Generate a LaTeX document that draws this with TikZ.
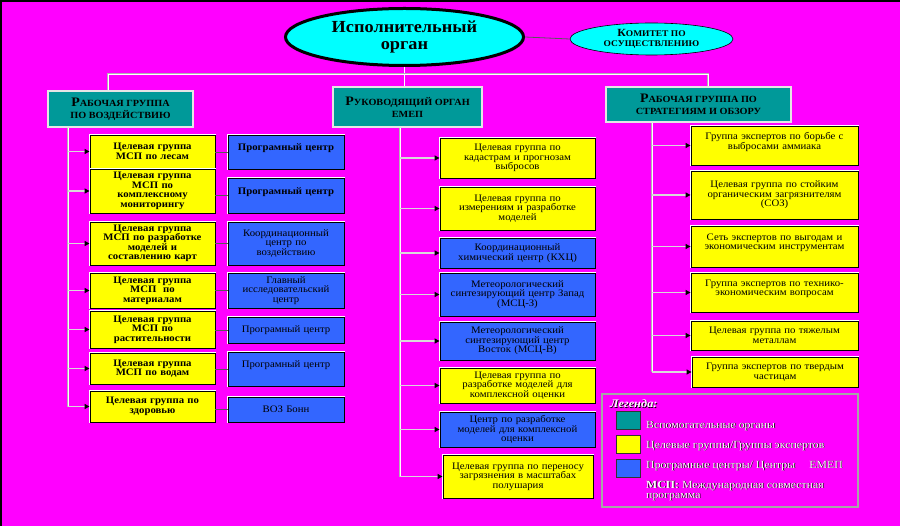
\documentclass[tikz,border=0pt]{standalone}
\usepackage{fontspec}
\setmainfont{Liberation Serif}[FakeStretch=1.08]
\usepackage{tikz}
\usetikzlibrary{shapes,arrows.meta}
\definecolor{bgmag}{RGB}{255,0,255}
\definecolor{tealc}{RGB}{0,153,153}
\definecolor{yelc}{RGB}{255,255,0}
\definecolor{bluec}{RGB}{51,102,255}
\definecolor{cyanc}{RGB}{0,255,255}
\newcommand{\hbig}[1]{{\fontsize{13}{13}\selectfont #1}}
\newcommand{\shtext}[1]{\leavevmode\rlap{\hspace{0.7bp}\raisebox{-0.7bp}{\color{black}#1}}{\color{white}#1}}
\tikzstyle{exec} = [ellipse, draw=black, line width=3bp, fill=cyanc, minimum width=238bp,
    minimum height=57bp, inner sep=0bp, align=center, font=\fontsize{17}{17.5}\selectfont\bfseries]
\tikzstyle{comm} = [ellipse, draw=black, line width=0.6bp, fill=cyanc, minimum width=163bp,
    minimum height=32bp, inner sep=0bp, align=center, font=\fontsize{8.8}{10}\selectfont\bfseries]
\tikzstyle{head} = [rectangle, draw=gray!20, line width=1.2bp, fill=tealc, align=center,
    inner sep=1bp, font=\fontsize{9.5}{12}\selectfont\bfseries]
\tikzstyle{box} = [rectangle, draw=black, line width=0.9bp, preaction={draw=white, line width=2.6bp},
    align=center, inner xsep=2bp, inner ysep=1bp, font=\fontsize{10}{9.5}\selectfont]
\tikzstyle{boldtxt} = [font=\fontsize{10}{9.5}\selectfont\bfseries]
\tikzstyle{tgl} = [box, boldtxt, fill=yelc, minimum width=125bp, text width=121bp]
\tikzstyle{pcl} = [box, fill=bluec, minimum width=116bp, text width=112bp]
\tikzstyle{tgm} = [box, fill=yelc, minimum width=155bp, text width=151bp]
\tikzstyle{pcm} = [box, fill=bluec, minimum width=155bp, text width=151bp]
\tikzstyle{tgr} = [box, fill=yelc, minimum width=167bp, text width=163bp]
\tikzstyle{legbox} = [rectangle, draw=gray!70, line width=1.2bp, minimum width=256bp, minimum height=113bp]
\tikzstyle{swatch} = [rectangle, draw=black!80, line width=1bp, minimum width=24bp, minimum height=18bp]
\tikzstyle{legtext} = [anchor=west, inner sep=1bp, font=\fontsize{11}{10}\selectfont]
\tikzstyle{bus} = [draw=gray!60, double=white, double distance=0.8bp, line width=0.5bp]
\tikzstyle{line} = [draw=gray!30, line width=1.6bp, -{Triangle[length=5bp, width=5bp, color=black]}]
\tikzstyle{link} = [draw=gray!70!black, line width=0.8bp]

\begin{document}
\begin{tikzpicture}[x=1bp, y=-1bp]
    % Background
    \fill [bgmag] (0,0) rectangle (900,526);
    \fill [black] (0,0) rectangle (900,2);
    \fill [black] (0,0) rectangle (2,526);

    % Place nodes
    \node [exec] (exec) at (404.5,37) {Исполнительный\\орган};
    \node [comm] (comm) at (651.5,39) {{\fontsize{11}{11}\selectfont К}ОМИТЕТ ПО\\ОСУЩЕСТВЛЕНИЮ};
    \node [head, minimum width=145bp, minimum height=36bp] (lwg) at (120.5,109)
        {\hbig{Р}АБОЧАЯ ГРУППА\\ПО ВОЗДЕЙСТВИЮ};
    \node [head, minimum width=149bp, minimum height=40bp] (steer) at (407.5,107)
        {\hbig{Р}УКОВОДЯЩИЙ ОРГАН\\ЕМЕП};
    \node [head, minimum width=185bp, minimum height=35bp] (swg) at (698.5,104.5)
        {\hbig{Р}АБОЧАЯ ГРУППА ПО\\СТРАТЕГИЯМ И ОБЗОРУ};

    % Left column
    \node [tgl, minimum height=33bp] (ly1) at (152.5,151.5) {Целевая группа\\МСП по лесам};
    \node [tgl, minimum height=44bp] (ly2) at (152.5,191) {Целевая группа\\МСП по\\комплексному\\мониторингу};
    \node [tgl, minimum height=43bp] (ly3) at (152.5,243.5) {Целевая группа\\МСП по разработке\\моделей и\\составлению карт};
    \node [tgl, minimum height=35bp] (ly4) at (152.5,290.5) {Целевая группа\\МСП\ \ по\\материалам};
    \node [tgl, minimum height=37bp] (ly5) at (152.5,329.5) {Целевая группа\\МСП по\\растительности};
    \node [tgl, minimum height=31bp] (ly6) at (152.5,368.5) {Целевая группа\\МСП по водам};
    \node [tgl, minimum height=31bp] (ly7) at (152.5,406.5) {Целевая группа по\\здоровью};

    \node [pcl, boldtxt, minimum height=34bp] (lb1) at (286,152) {Програмный центр\\\mbox{}};
    \node [pcl, boldtxt, minimum height=35bp] (lb2) at (286,195.5) {Програмный центр\\\mbox{}};
    \node [pcl, minimum height=43bp] (lb3) at (286,243.5) {Координационный\\центр по\\воздействию};
    \node [pcl, minimum height=35bp] (lb4) at (286,290.5) {Главный\\исследовательский\\центр};
    \node [pcl, minimum height=26bp] (lb5) at (286,330) {Програмный центр};
    \node [pcl, minimum height=34bp] (lb6) at (286,369) {Програмный центр\\\mbox{}};
    \node [pcl, minimum height=25bp] (lb7) at (286,409.5) {ВОЗ Бонн};

    % Middle column
    \node [tgm, minimum height=40bp] (m1) at (517.5,158) {Целевая группа по\\кадастрам и прогнозам\\выбросов};
    \node [tgm, minimum height=43bp] (m2) at (517.5,208.5) {Целевая группа по\\измерениям и разработке\\моделей};
    \node [pcm, minimum height=30bp] (m3) at (517.5,253) {Координационный\\химический центр (КХЦ)};
    \node [pcm, minimum height=43bp] (m4) at (517.5,294.5) {Метеорологический\\синтезирующий центр Запад\\(МСЦ-З)};
    \node [pcm, minimum height=38bp] (m5) at (517.5,341) {Метеорологический\\синтезирующий центр\\Восток (МСЦ-В)};
    \node [tgm, minimum height=35bp] (m6) at (517.5,385.5) {Целевая группа по\\разработке моделей для\\комплексной оценки};
    \node [pcm, minimum height=35bp] (m7) at (517.5,429.5) {Центр по разработке\\моделей для комплексной\\оценки};
    \node [tgm, minimum height=43bp, minimum width=150bp, text width=146bp] (m8) at (518,476.5)
        {Целевая группа по переносу\\загрязнения в масштабах\\полушария};

    % Right column
    \node [tgr, minimum height=39bp] (r1) at (774.5,145.5) {Группа экспертов по борьбе с\\выбросами аммиака\\\mbox{}};
    \node [tgr, minimum height=48bp] (r2) at (774.5,195) {Целевая группа по стойким\\органическим загрязнителям\\(СОЗ)};
    \node [tgr, minimum height=41bp] (r3) at (774.5,246.5) {Сеть экспертов по выгодам и\\экономическим инструментам\\\mbox{}};
    \node [tgr, minimum height=39bp] (r4) at (774.5,292.5) {Группа экспертов по технико-\\экономическим вопросам\\\mbox{}};
    \node [tgr, minimum height=29bp] (r5) at (774.5,335.5) {Целевая группа по тяжелым\\металлам};
    \node [tgr, minimum height=30bp, minimum width=166bp, text width=162bp] (r6) at (775,372)
        {Группа экспертов по твердым\\частицам};

    % Legend
    \node [legbox] (legend) at (730,450.5) {};
    \node [legtext, font=\fontsize{11.5}{11.5}\selectfont\bfseries\itshape] (legtitle) at (609,404) {\shtext{Легенда:}};
    \node [swatch, fill=tealc] (sw1) at (628,420) {};
    \node [swatch, fill=yelc] (sw2) at (628,444) {};
    \node [swatch, fill=bluec] (sw3) at (628,468) {};
    \node [legtext] (lg1) at (645,426) {\shtext{Вспомогательные органы}};
    \node [legtext] (lg2) at (645,446) {\shtext{Целевые группы/Группы экспертов}};
    \node [legtext] (lg3) at (645,466) {\shtext{Програмные центры/ Центры\hspace{14bp}ЕМЕП}};
    \node [legtext, align=left] (lg4) at (645,491)
        {\shtext{\textbf{МСП:} Международная совместная}\\\shtext{программа}};

    \coordinate (ldrop) at (108,74);
    \coordinate (rdrop) at (708,74);
    \coordinate (ltr) at (68,0);
    \coordinate (mtr) at (400,0);
    \coordinate (rtr) at (652,0);

  \path [link] (exec.east) -- (comm.west);
  \path [bus] (exec.south) -- (steer.north -| exec.south);
  \path [bus] (lwg.north -| ldrop) -- (ldrop) -- (rdrop) -- (swg.north -| rdrop);

  \path [bus] (lwg.south -| ltr) -- (ltr |- ly7.west);
  \path [line] (ltr |- ly1.west) -- (ly1.west);
  \path [line] (ltr |- ly2.west) -- (ly2.west);
  \path [line] (ltr |- ly3.west) -- (ly3.west);
  \path [line] (ltr |- ly4.west) -- (ly4.west);
  \path [line] (ltr |- ly5.west) -- (ly5.west);
  \path [line] (ltr |- ly6.west) -- (ly6.west);
  \path [line] (ltr |- ly7.west) -- (ly7.west);
  \path [link] (lb1.west -| ly1.east) -- (lb1.west);
  \path [link] (lb2.west -| ly2.east) -- (lb2.west);
  \path [link] (lb3.west -| ly3.east) -- (lb3.west);
  \path [link] (lb4.west -| ly4.east) -- (lb4.west);
  \path [link] (lb5.west -| ly5.east) -- (lb5.west);
  \path [link] (lb6.west -| ly6.east) -- (lb6.west);
  \path [link] (lb7.west -| ly7.east) -- (lb7.west);

  \path [bus] (steer.south -| mtr) -- (mtr |- m8.west);
  \path [line] (mtr |- m1.west) -- (m1.west);
  \path [line] (mtr |- m2.west) -- (m2.west);
  \path [line] (mtr |- m3.west) -- (m3.west);
  \path [line] (mtr |- m4.west) -- (m4.west);
  \path [line] (mtr |- m5.west) -- (m5.west);
  \path [line] (mtr |- m6.west) -- (m6.west);
  \path [line] (mtr |- m7.west) -- (m7.west);
  \path [line] (mtr |- m8.west) -- (m8.west);

  \path [bus] (swg.south -| rtr) -- (rtr |- r6.west);
  \path [line] (rtr |- r1.west) -- (r1.west);
  \path [line] (rtr |- r2.west) -- (r2.west);
  \path [line] (rtr |- r3.west) -- (r3.west);
  \path [line] (rtr |- r4.west) -- (r4.west);
  \path [line] (rtr |- r5.west) -- (r5.west);
  \path [line] (rtr |- r6.west) -- (r6.west);
\end{tikzpicture}
\end{document}
